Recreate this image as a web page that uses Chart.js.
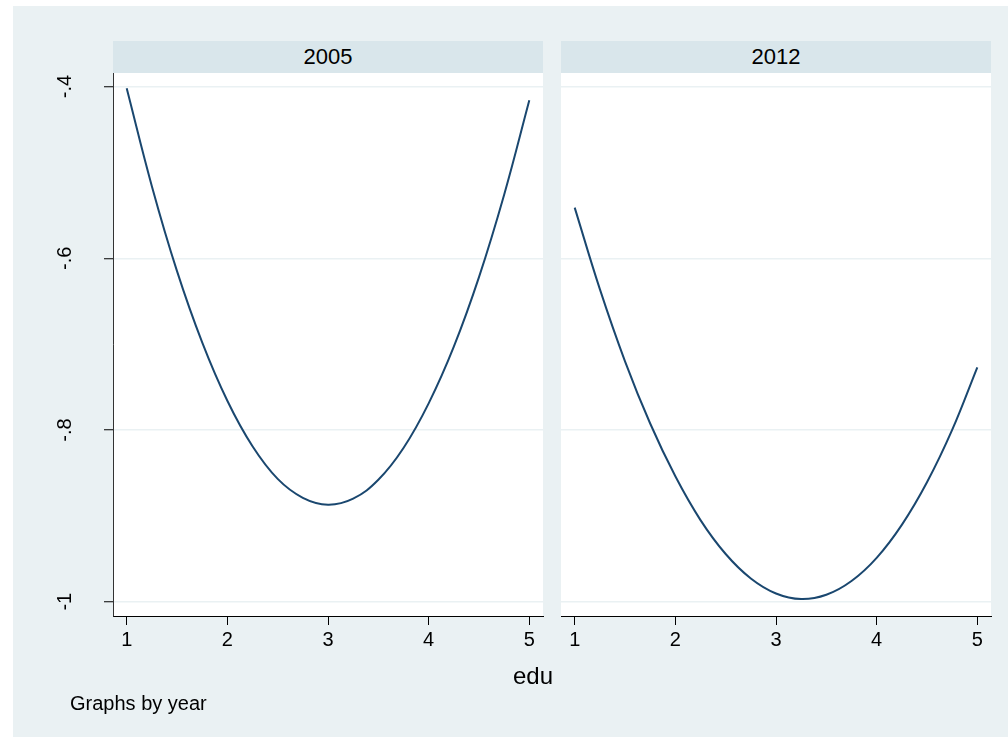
<!DOCTYPE html>
<html>
<head>
<meta charset="utf-8">
<script src="https://cdn.jsdelivr.net/npm/chart.js@4/dist/chart.umd.min.js"></script>
<style>
  html, body { margin: 0; padding: 0; background: #ffffff; width: 1008px; height: 737px; overflow: hidden; }
  #bg { position: absolute; left: 13px; top: 6px; width: 995px; height: 731px; background: #eaf1f3; }
  canvas { position: absolute; top: 0; }
  .band { position: absolute; top: 41px; height: 32px; line-height: 32px; background: #d9e6eb;
          font-family: "Liberation Sans", Arial, sans-serif; font-size: 22px; text-align: center; color: #000; }
  .txt { position: absolute; font-family: "Liberation Sans", Arial, sans-serif; color: #000; white-space: nowrap; }
</style>
</head>
<body>
<div id="bg"></div>
<canvas id="c1" width="552" height="737" style="left:0px;width:552px;height:737px"></canvas>
<canvas id="c2" width="456" height="737" style="left:552px;width:456px;height:737px"></canvas>
<div class="band" id="h1" style="left:113px;width:430px"></div>
<div class="band" id="h2" style="left:561px;width:430px"></div>
<div class="txt" id="xtitle" style="left:433px;width:200px;text-align:center;top:664px;font-size:24px;line-height:24px"></div>
<div class="txt" id="note" style="left:70px;top:693px;font-size:20px;line-height:20px"></div>
<script>
// ---- data ----
const panels = ['2005', '2012'];
const edu = [1, 1.25, 1.5, 1.75, 2, 2.25, 2.5, 2.75, 3, 3.25, 3.5, 3.75, 4, 4.25, 4.5, 4.75, 5];
const fit2005 = [-0.402, -0.516, -0.615, -0.698, -0.766, -0.819, -0.857, -0.879, -0.887, -0.880, -0.858, -0.821, -0.769, -0.703, -0.622, -0.526, -0.416];
const fit2012 = [-0.541, -0.636, -0.720, -0.7925, -0.854, -0.905, -0.9445, -0.973, -0.9905, -0.997, -0.992, -0.976, -0.949, -0.9106, -0.861, -0.800, -0.727];
const xTicks = [1, 2, 3, 4, 5];
const xTickLabels = ['1', '2', '3', '4', '5'];
const yTicks = [-1, -0.8, -0.6, -0.4];
const yTickLabels = ['-1', '-.8', '-.6', '-.4'];
const xTitle = 'edu';
const noteText = 'Graphs by year';

document.getElementById('h1').textContent = panels[0];
document.getElementById('h2').textContent = panels[1];
document.getElementById('xtitle').textContent = xTitle;
document.getElementById('note').textContent = noteText;

const FONT = '"Liberation Sans", Arial, sans-serif';
const LINE = '#1a476f';
const GRID = '#eaf1f3';

const plotBg = {
  id: 'plotBg',
  beforeDraw(chart) {
    const a = chart.chartArea, ctx = chart.ctx;
    ctx.save();
    ctx.fillStyle = '#ffffff';
    ctx.fillRect(a.left, a.top, a.right - a.left, a.bottom - a.top);
    ctx.restore();
  }
};

const rotatedYLabels = {
  id: 'rotatedYLabels',
  afterDraw(chart) {
    if (!chart.options.plugins.rotatedYLabels.show) return;
    const ys = chart.scales.y, ctx = chart.ctx;
    ctx.save();
    ctx.fillStyle = '#000';
    ctx.font = '20px ' + FONT;
    ctx.textAlign = 'center';
    ctx.textBaseline = 'middle';
    yTicks.forEach((v, i) => {
      const py = ys.getPixelForValue(v);
      ctx.save();
      ctx.translate(65, py);
      ctx.rotate(-Math.PI / 2);
      ctx.fillText(yTickLabels[i], 0, 0);
      ctx.restore();
    });
    ctx.restore();
  }
};

function makeChart(id, values, first) {
  const yWidth = first ? 113 : 9;
  const padRight = first ? 9 : 17;
  return new Chart(document.getElementById(id), {
    type: 'line',
    data: {
      datasets: [{
        data: edu.map((x, i) => ({ x: x, y: values[i] })),
        borderColor: LINE,
        borderWidth: 2,
        pointRadius: 0,
        tension: 0.4,
        fill: false
      }]
    },
    options: {
      responsive: false,
      animation: false,
      events: [],
      layout: { padding: { top: 73, right: padRight, bottom: 0, left: 0 } },
      plugins: {
        legend: { display: false },
        tooltip: { enabled: false },
        rotatedYLabels: { show: first }
      },
      scales: {
        x: {
          type: 'linear',
          min: 0.864,
          max: 5.136,
          afterFit(s) { s.height = 121; },
          afterBuildTicks(s) { s.ticks = xTicks.map(v => ({ value: v })); },
          ticks: {
            autoSkip: false,
            maxRotation: 0,
            minRotation: 0,
            padding: 3,
            color: '#000',
            font: { family: FONT, size: 20 },
            callback(v) { const i = xTicks.indexOf(v); return i >= 0 ? xTickLabels[i] : ''; }
          },
          grid: { drawOnChartArea: false, drawTicks: true, tickLength: 9, tickColor: '#000', tickWidth: 1 },
          border: { display: true, color: '#000', width: 1 }
        },
        y: {
          type: 'linear',
          min: -1.0167,
          max: -0.3842,
          afterFit(s) { s.width = yWidth; },
          afterBuildTicks(s) { s.ticks = yTicks.map(v => ({ value: v })); },
          ticks: { display: false },
          grid: {
            drawOnChartArea: true,
            color: GRID,
            lineWidth: 1.5,
            drawTicks: first,
            tickLength: 9,
            tickColor: '#000',
            tickWidth: 1
          },
          border: { display: first, color: '#333', width: 1 }
        }
      }
    },
    plugins: [plotBg, rotatedYLabels]
  });
}

makeChart('c1', fit2005, true);
makeChart('c2', fit2012, false);
</script>
</body>
</html>
